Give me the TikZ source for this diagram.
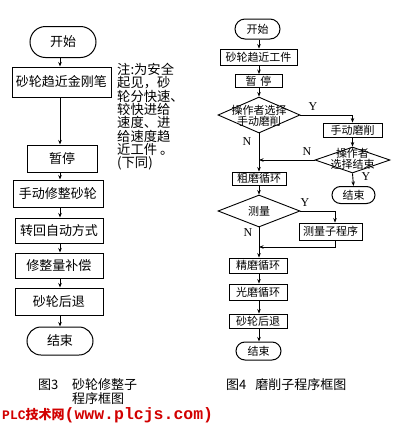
\documentclass[tikz,border=0pt]{standalone}
\usepackage{fontspec}
\setmainfont{Noto Sans CJK SC}
\newfontfamily\latserif{Liberation Serif}
\newfontfamily\wmmono{Liberation Mono}
\usetikzlibrary{shapes.geometric,shapes.misc,arrows.meta}
\definecolor{wmred}{RGB}{210,0,0}
\begin{document}
\begin{tikzpicture}[x=1pt,y=-1pt,
  box/.style={draw,line width=1pt,inner sep=0pt,font=\fontsize{13}{13}\selectfont},
  sbox/.style={draw,line width=0.9pt,inner sep=0pt,font=\fontsize{11}{11}\selectfont},
  term/.style={draw,line width=1pt,rounded rectangle,inner sep=0pt},
  dia/.style={draw,diamond,line width=0.9pt,inner sep=0pt},
  diatext/.style={inner sep=0pt,align=center,font=\fontsize{11}{11}\selectfont},
  arr/.style={line width=0.9pt,-{Stealth[length=4.5pt,width=3.5pt]}},
  yn/.style={font=\latserif\fontsize{12}{12}\selectfont,inner sep=0pt},
  captext/.style={inner sep=0pt,font=\fontsize{13}{14}\selectfont},
]
\useasboundingbox (0,0) rectangle (400,424);
\fill[white] (0,0) rectangle (400,424);

% ---------- left chart ----------
\coordinate (L) at (60,0);
\node[term,minimum width=66pt,minimum height=31pt,font=\fontsize{13}{13}\selectfont] (s1) at (63,42) {开始};
\node[box,minimum width=99pt,minimum height=30pt] (a1) at (61.5,82) {砂轮趋近金刚笔};
\node[box,minimum width=70pt,minimum height=27pt] (a2) at (62,158.5) {暂停};
\node[box,minimum width=90pt,minimum height=27pt] (a3) at (58,193.5) {手动修整砂轮};
\node[box,minimum width=88pt,minimum height=25pt] (a4) at (59,230.5) {转回自动方式};
\node[box,minimum width=88pt,minimum height=25pt] (a5) at (59,265.5) {修整量补偿};
\node[box,minimum width=88pt,minimum height=27pt] (a6) at (59,301.5) {砂轮后退};
\node[term,minimum width=66pt,minimum height=28pt,font=\fontsize{13}{13}\selectfont] (e1) at (60,341) {结束};

\node[anchor=north west,inner sep=0pt,align=left,font=\fontsize{13.3}{13.3}\selectfont] (note) at (117,63)
 {注:为安全\\起见，砂\\轮分快速、\\较快进给\\速度、进\\给速度趋\\近工件 。\\(下同)};

\draw[arr] (L |- s1.south) -- (L |- a1.north);
\draw[arr] (L |- a1.south) -- (L |- a2.north);
\draw[arr] (L |- a2.south) -- (L |- a3.north);
\draw[arr] (L |- a3.south) -- (L |- a4.north);
\draw[arr] (L |- a4.south) -- (L |- a5.north);
\draw[arr] (L |- a5.south) -- (L |- a6.north);
\draw[arr] (L |- a6.south) -- (L |- e1.north);

\node[captext,anchor=west] (c3a) at (38,385) {图3};
\node[captext,anchor=north west,align=left] (c3b) at (72,378) {砂轮修整子\\程序框图};

% ---------- right chart ----------
\coordinate (R) at (259,0);
\coordinate (Bx) at (335,0);
\node[term,minimum width=45pt,minimum height=20pt,font=\fontsize{11}{11}\selectfont] (s2) at (257.5,29) {开始};
\node[sbox,minimum width=77pt,minimum height=16pt] (b1) at (258.5,57) {砂轮趋近工件};
\node[sbox,minimum width=47pt,minimum height=13pt] (b2) at (258.5,81) {暂\hspace{4pt}停};
\node[dia,minimum width=82pt,minimum height=36pt] (d1) at (259,115) {};
\node[diatext] (t1) at (259,116) {操作者选择\\手动磨削};
\node[sbox,minimum width=59pt,minimum height=14pt] (b3) at (352.5,130) {手动磨削};
\node[dia,minimum width=75pt,minimum height=26pt] (d2) at (352.5,160) {};
\node[diatext] (t2) at (352.5,159) {操作者\\选择结束};
\node[term,minimum width=43pt,minimum height=17pt,font=\fontsize{11}{11}\selectfont] (e2a) at (353.5,195) {结束};
\node[sbox,minimum width=54pt,minimum height=13pt] (b4) at (259,178.5) {粗磨循环};
\node[dia,minimum width=82pt,minimum height=32pt] (d3) at (259,211) {};
\node[diatext] (t3) at (259,211) {测量};
\node[sbox,minimum width=63pt,minimum height=17pt] (b5) at (330.5,231.5) {测量子程序};
\node[sbox,minimum width=58pt,minimum height=15pt] (b6) at (258,265.5) {精磨循环};
\node[sbox,minimum width=58pt,minimum height=16pt] (b7) at (258,292) {光磨循环};
\node[sbox,minimum width=58pt,minimum height=14pt] (b8) at (258,321) {砂轮后退};
\node[term,minimum width=45pt,minimum height=18pt,font=\fontsize{11}{11}\selectfont] (e2) at (258.5,351) {结束};

\coordinate (J1) at (259,160);
\coordinate (J2) at (259,247);

\draw[arr] (R |- s2.south) -- (R |- b1.north);
\draw[arr] (R |- b1.south) -- (R |- b2.north);
\draw[arr] (R |- b2.south) -- (d1.north);
\draw[arr] (d1.east) -| (b3.north);
\draw[arr] (b3.south) -- (d2.north);
\draw[arr] (d2.west) -- (J1);
\draw[arr] (d2.south) -- (e2a.north);
\draw[arr] (d1.south) -- (R |- b4.north);
\draw[arr] (R |- b4.south) -- (d3.north);
\draw[arr] (d3.east) -| (Bx |- b5.north);
\draw[arr] (Bx |- b5.south) |- (J2);
\draw[arr] (d3.south) -- (R |- b6.north);
\draw[arr] (R |- b6.south) -- (R |- b7.north);
\draw[arr] (R |- b7.south) -- (R |- b8.north);
\draw[arr] (R |- b8.south) -- (R |- e2.north);

\node[yn] (y1) at (313,107) {Y};
\node[yn] (n1) at (247,142) {N};
\node[yn] (n2) at (307,152) {N};
\node[yn] (y2) at (366,177) {Y};
\node[yn] (y3) at (305,203) {Y};
\node[yn] (n3) at (248,233) {N};

\node[captext,anchor=west] (c4) at (226,385) {图4\hspace{9pt}磨削子程序框图};

% ---------- watermark ----------
\node[anchor=west,inner sep=0pt,text=wmred,font=\bfseries\fontsize{13}{13}\selectfont] (wm) at (2,415)
 {{\wmmono PLC}技术网{\wmmono\fontsize{16.5}{16.5}\selectfont (www.plcjs.com)}};
\end{tikzpicture}
\end{document}
